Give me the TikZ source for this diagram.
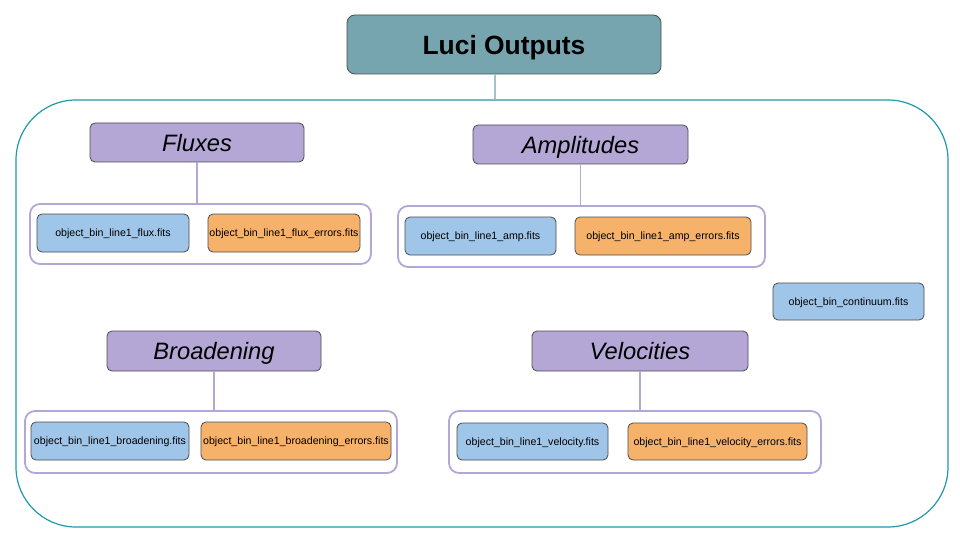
\documentclass[tikz,border=0pt]{standalone}
\usepackage{fontspec}
\setmainfont{Liberation Sans}
\definecolor{titlefill}{HTML}{76A5AF}
\definecolor{headfill}{HTML}{B4A7D6}
\definecolor{fileblue}{HTML}{9FC5E8}
\definecolor{fileorange}{HTML}{F6B26B}
\definecolor{outerline}{HTML}{1F9AA8}
\definecolor{stemline}{HTML}{A2C4C9}
\tikzset{
  filebox/.style={draw=black!70, line width=0.8pt, rounded corners=5pt, inner sep=0pt, text depth=0pt, font=\fontsize{10.6}{12}\selectfont},
  bluefile/.style={filebox, fill=fileblue},
  orangefile/.style={filebox, fill=fileorange},
  headbox/.style={draw=black!70, line width=0.8pt, fill=headfill, rounded corners=5pt, inner sep=0pt, text depth=0pt, font=\fontsize{23.7}{26}\selectfont\itshape},
  groupbox/.style={draw=headfill, line width=1.8pt, fill=white, rounded corners=10pt, inner sep=0pt},
  stem/.style={draw=headfill, line width=1.8pt},
}
\begin{document}
\begin{tikzpicture}[x=1pt, y=-1pt]
\useasboundingbox (0,0) rectangle (960,540);
\node[draw=outerline, line width=1.2pt, rounded corners=60pt, minimum width=932pt, minimum height=427pt] (outer) at (482,313.5){};
\node[draw=black!70, line width=0.8pt, fill=titlefill, rounded corners=8pt, minimum width=314pt, minimum height=59pt, text depth=0pt, font=\fontsize{26.4}{30}\selectfont\bfseries] (title) at (504,44.5){Luci Outputs};
\draw[stemline, line width=1.8pt] ([xshift=-9pt]title.south) -- ([xshift=-9pt]title.south |- outer.north);

\node[groupbox, minimum width=341pt, minimum height=60pt] (fluxgrp) at (200.5,234){};
\node[headbox, minimum width=214pt, minimum height=39pt] (fluxhead) at (197,142.5){Fluxes};
\node[bluefile, minimum width=152pt, minimum height=38pt] (fluxval) at (113,233){object\_bin\_line1\_flux.fits};
\node[orangefile, minimum width=152pt, minimum height=38pt] (fluxerr) at (284,233){object\_bin\_line1\_flux\_errors.fits};
\draw[stem] (fluxhead.south) -- (fluxhead.south |- fluxgrp.north);

\node[groupbox, minimum width=367pt, minimum height=61pt] (ampgrp) at (581.5,236.5){};
\node[headbox, minimum width=215pt, minimum height=39pt] (amphead) at (580.5,144.5){Amplitudes};
\node[bluefile, minimum width=151pt, minimum height=38pt] (ampval) at (480.5,236){object\_bin\_line1\_amp.fits};
\node[orangefile, minimum width=176pt, minimum height=38pt] (amperr) at (663,236){object\_bin\_line1\_amp\_errors.fits};
\draw[stem] (amphead.south) -- (amphead.south |- ampgrp.north);

\node[bluefile, minimum width=151pt, minimum height=37pt] (cont) at (848.5,301.5){object\_bin\_continuum.fits};

\node[groupbox, minimum width=372pt, minimum height=62pt] (broadgrp) at (211,442){};
\node[headbox, minimum width=214pt, minimum height=40pt] (broadhead) at (214,351){Broadening};
\node[bluefile, minimum width=158pt, minimum height=38pt] (broadval) at (110,441){object\_bin\_line1\_broadening.fits};
\node[orangefile, minimum width=190pt, minimum height=38pt] (broaderr) at (296,441){object\_bin\_line1\_broadening\_errors.fits};
\draw[stem] (broadhead.south) -- (broadhead.south |- broadgrp.north);

\node[groupbox, minimum width=372pt, minimum height=62pt] (velgrp) at (635,442){};
\node[headbox, minimum width=216pt, minimum height=40pt] (velhead) at (640,351){Velocities};
\node[bluefile, minimum width=151pt, minimum height=37pt] (velval) at (532.5,441.5){object\_bin\_line1\_velocity.fits};
\node[orangefile, minimum width=179pt, minimum height=37pt] (velerr) at (717.5,441.5){object\_bin\_line1\_velocity\_errors.fits};
\draw[stem] (velhead.south) -- (velhead.south |- velgrp.north);

\end{tikzpicture}
\end{document}
